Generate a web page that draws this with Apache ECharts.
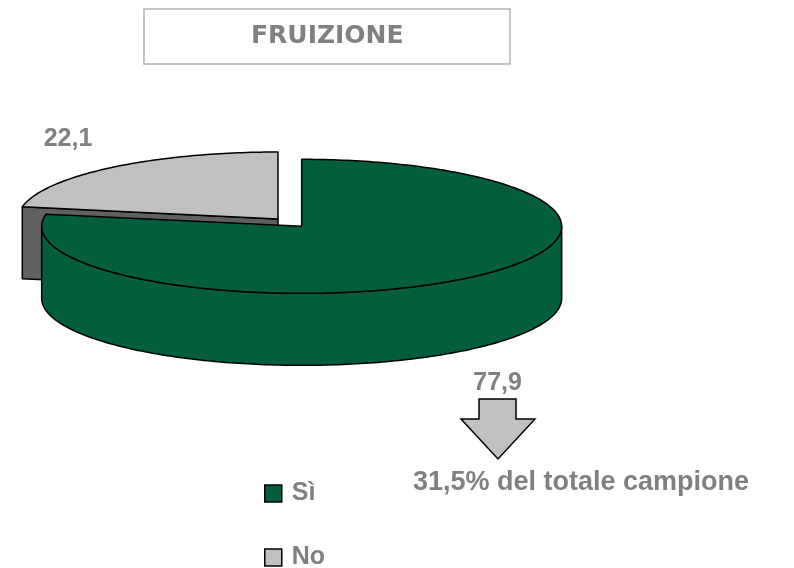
<!DOCTYPE html>
<html>
<head>
<meta charset="utf-8">
<title>Fruizione</title>
<script src="https://cdn.jsdelivr.net/npm/echarts@6/dist/echarts.min.js"></script>
</head>
<body style="margin:0;background:#fff;">
<div id="main" style="width:794px;height:568px;"></div>
<script type="text/javascript">
// dati del grafico
var categorie = ['Sì', 'No'];
var valori = [77.9, 22.1];
var titolo = 'FRUIZIONE';
var nota = '31,5% del totale campione';

// aspetto della torta 3D
var coloriTop = ['#035E3C', '#C0C0C0'];
var coloriLato = ['#035E3C', '#606060'];
var esploso = [37, 0];
var centro = [278, 219];
var rx = 260, ry = 67, spessore = 72;
var grigio = '#808080';

var totale = valori.reduce(function (a, b) { return a + b; }, 0);

function rad(g) { return g * Math.PI / 180; }
function punto(c, a, dy) {
    return [c[0] + rx * Math.cos(rad(a)), c[1] - ry * Math.sin(rad(a)) + dy];
}
function arco(c, a0, a1, dy) {
    var pts = [], n = Math.max(2, Math.ceil(Math.abs(a1 - a0)));
    for (var k = 0; k <= n; k++) pts.push(punto(c, a0 + (a1 - a0) * k / n, dy));
    return pts;
}

// angoli della fetta: da ore 12 in senso orario
function fetta(i) {
    var prima = 0;
    for (var j = 0; j < i; j++) prima += valori[j];
    var e = 90 - 360 * prima / totale;
    var s = 90 - 360 * (prima + valori[i]) / totale;
    var m = (s + e) / 2;
    var c = [centro[0] + esploso[i] * Math.cos(rad(m)),
             centro[1] - esploso[i] * Math.sin(rad(m)) * ry / rx];
    return {s: s, e: e, m: m, c: c};
}

function renderFetta(i) {
    return function (params, api) {
        var f = fetta(i), c = f.c, figli = [];
        function poligono(pts, colore) {
            figli.push({
                type: 'polygon', shape: {points: pts},
                style: {fill: colore, stroke: '#000', lineWidth: 1.5, lineJoin: 'round'}
            });
        }
        // facce radiali visibili
        [[f.e, Math.cos(rad(f.e)) < -1e-6], [f.s, Math.cos(rad(f.s)) > 1e-6]].forEach(function (r) {
            if (!r[1]) return;
            poligono([[c[0], c[1]], punto(c, r[0], 0), punto(c, r[0], spessore), [c[0], c[1] + spessore]], coloriLato[i]);
        });
        // parete esterna, solo la metà davanti
        for (var n = -1; n <= 1; n++) {
            var a0 = Math.max(f.s, -180 + 360 * n), a1 = Math.min(f.e, 360 * n);
            if (a1 > a0) poligono(arco(c, a0, a1, 0).concat(arco(c, a1, a0, spessore)), coloriLato[i]);
        }
        // faccia superiore
        poligono([[c[0], c[1]]].concat(arco(c, f.s, f.e, 0)), coloriTop[i]);
        // etichetta
        var sn = Math.sin(rad(f.m));
        figli.push({
            type: 'text',
            x: c[0] + Math.cos(rad(f.m)) * rx * 1.22 - 7,
            y: c[1] - sn * ry * 1.6 + (sn < 0 ? spessore : 0) + 2,
            style: {
                text: api.value(0).toFixed(1).replace('.', ','),
                fill: grigio, font: 'bold 25px "Liberation Sans"',
                align: 'center', verticalAlign: 'middle'
            }
        });
        return {type: 'group', children: figli};
    };
}

var myChart = echarts.init(document.getElementById('main'));
var option = {
    backgroundColor: '#fff',
    animation: false,
    title: {
        text: titolo,
        left: 144, top: 9,
        padding: [15, 107],
        borderColor: '#B4B4B4', borderWidth: 1.5,
        textStyle: {fontFamily: 'DejaVu Sans', fontWeight: 'bold', fontSize: 25, color: grigio}
    },
    legend: {
        data: categorie,
        orient: 'vertical',
        left: 264, top: 481,
        height: 120,
        padding: 0,
        itemWidth: 17, itemHeight: 17, itemGap: 39,
        icon: 'rect',
        itemStyle: {borderColor: '#000', borderWidth: 1.5},
        textStyle: {fontFamily: 'Liberation Sans', fontWeight: 'bold', fontSize: 25, color: grigio, padding: [0, 0, 0, 5]}
    },
    graphic: [
        {
            type: 'polygon',
            shape: {points: [[479, 399], [516, 399], [516, 419], [535, 419], [498, 459], [461, 419], [479, 419]]},
            style: {fill: '#C0C0C0', stroke: '#000', lineWidth: 1.5}
        },
        {
            type: 'text', x: 413, y: 483,
            style: {text: nota, fill: grigio, font: 'bold 27px "Liberation Sans"', verticalAlign: 'middle'}
        }
    ],
    series: [1, 0].map(function (i) {
        return {
            type: 'custom',
            name: categorie[i],
            coordinateSystem: 'none',
            silent: true,
            itemStyle: {color: coloriTop[i]},
            data: [valori[i]],
            renderItem: renderFetta(i)
        };
    })
};
myChart.setOption(option);
</script>
</body>
</html>
